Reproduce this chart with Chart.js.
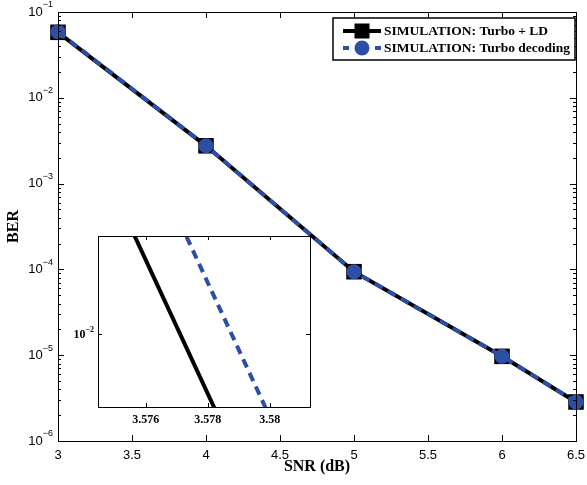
<!DOCTYPE html>
<html lang="en">
  <head>
    <meta charset="UTF-8" />
    <title>BER vs SNR</title>
    <script src="https://cdn.jsdelivr.net/npm/chart.js"></script>
    <style>
      html, body { margin: 0; padding: 0; background: #fff; }
      .wrap { position: relative; width: 587px; height: 485px; }
      #mainChart { position: absolute; left: 0; top: 0; }
      #insetChart { position: absolute; left: 60px; top: 226px; }
    </style>
  </head>
  <body>
    <div class="wrap">
      <canvas id="mainChart" width="587" height="485"></canvas>
      <canvas id="insetChart" width="260" height="210"></canvas>
    </div>

    <script>
      // data
      const snr = [3, 4, 5, 6, 6.5];
      const berTurboLD = [0.058, 0.002758, 9.4e-5, 9.7e-6, 2.85e-6];
      const berTurbo = [0.0587, 0.002758, 9.4e-5, 9.7e-6, 2.85e-6];

      const xTicks = [3, 3.5, 4, 4.5, 5, 5.5, 6, 6.5];
      const yExponents = [-1, -2, -3, -4, -5, -6];
      const insetXTicks = [3.576, 3.578, 3.58];
      const insetYExponents = [-2];

      const labelLD = "SIMULATION: Turbo + LD";
      const labelTurbo = "SIMULATION: Turbo decoding";

      const BLUE = "rgb(45,78,166)";
      const SANS = "'Liberation Sans', Arial, sans-serif";
      const SERIF = "'Liberation Serif', 'Times New Roman', serif";

      const toPoints = (ys) => snr.map((x, i) => ({ x: x, y: ys[i] }));

      // the inset is a very deep zoom, so the off-screen ends of the segments
      // land far outside the 16-bit pixel range chart.js clamps to.
      // these scales are the stock ones without that clamp.
      class WideLinearScale extends Chart.LinearScale {
        getPixelForDecimal(d) {
          if (this._reversePixels) d = 1 - d;
          return this._startPixel + d * this._length;
        }
      }
      WideLinearScale.id = "wideLinear";
      WideLinearScale.defaults = Chart.LinearScale.defaults;

      class WideLogScale extends Chart.LogarithmicScale {
        getPixelForDecimal(d) {
          if (this._reversePixels) d = 1 - d;
          return this._startPixel + d * this._length;
        }
      }
      WideLogScale.id = "wideLog";
      WideLogScale.defaults = Chart.LogarithmicScale.defaults;

      Chart.register(WideLinearScale, WideLogScale);

      // "10" with a raised exponent, right aligned at x
      function drawPower(ctx, exp, x, y, baseFont, expFont, expRise) {
        const base = "10";
        const sup = "\u2212" + Math.abs(exp);
        ctx.font = baseFont;
        const wb = ctx.measureText(base).width;
        ctx.font = expFont;
        const we = ctx.measureText(sup).width;
        ctx.textAlign = "left";
        ctx.textBaseline = "middle";
        ctx.font = baseFont;
        ctx.fillText(base, x - wb - we, y);
        ctx.font = expFont;
        ctx.fillText(sup, x - we, y - expRise);
      }

      const mainDecor = {
        id: "mainDecor",
        afterDraw(chart) {
          const ctx = chart.ctx;
          const a = chart.chartArea;
          const xs = chart.scales.x;
          const ys = chart.scales.y;
          ctx.save();
          ctx.strokeStyle = "#000";
          ctx.fillStyle = "#000";
          ctx.lineWidth = 1;

          // frame
          ctx.strokeRect(a.left + 0.5, a.top + 0.5, a.right - a.left, a.bottom - a.top);

          // x ticks, inward on bottom and top
          ctx.beginPath();
          xTicks.forEach((v) => {
            const px = Math.round(xs.getPixelForValue(v)) + 0.5;
            ctx.moveTo(px, a.bottom);
            ctx.lineTo(px, a.bottom - 6);
            ctx.moveTo(px, a.top);
            ctx.lineTo(px, a.top + 6);
          });
          // y ticks, major and minor, inward on both sides
          yExponents.forEach((e) => {
            const py = Math.round(ys.getPixelForValue(Math.pow(10, e))) + 0.5;
            ctx.moveTo(a.left, py);
            ctx.lineTo(a.left + 6, py);
            ctx.moveTo(a.right, py);
            ctx.lineTo(a.right - 6, py);
            if (e > -6) {
              for (let m = 2; m <= 9; m++) {
                const my = Math.round(ys.getPixelForValue(m * Math.pow(10, e - 1))) + 0.5;
                ctx.moveTo(a.left, my);
                ctx.lineTo(a.left + 3, my);
                ctx.moveTo(a.right, my);
                ctx.lineTo(a.right - 3, my);
              }
            }
          });
          ctx.stroke();

          // tick labels
          ctx.font = "13px " + SANS;
          ctx.textAlign = "center";
          ctx.textBaseline = "middle";
          xTicks.forEach((v) => {
            ctx.fillText(String(v), xs.getPixelForValue(v), a.bottom + 14);
          });
          yExponents.forEach((e) => {
            const py = ys.getPixelForValue(Math.pow(10, e));
            drawPower(ctx, e, a.left - 5, py, "13px " + SANS, "9px " + SANS, 7);
          });

          // axis titles
          ctx.font = "bold 16px " + SERIF;
          ctx.textAlign = "center";
          ctx.textBaseline = "middle";
          ctx.fillText("SNR (dB)", (a.left + a.right) / 2, a.bottom + 26);
          ctx.save();
          ctx.translate(14, (a.top + a.bottom) / 2);
          ctx.rotate(-Math.PI / 2);
          ctx.fillText("BER", 0, 0);
          ctx.restore();

          // legend
          const lx = a.right - 243, ly = a.top + 6, lw = 242, lh = 42;
          ctx.fillStyle = "#fff";
          ctx.fillRect(lx, ly, lw, lh);
          ctx.strokeStyle = "#000";
          ctx.lineWidth = 1.5;
          ctx.strokeRect(lx, ly, lw, lh);

          const r1 = ly + 13, r2 = ly + 30;
          const s0 = lx + 10, s1 = lx + 48, sm = (s0 + s1) / 2;
          ctx.lineWidth = 4;
          ctx.strokeStyle = "#000";
          ctx.beginPath();
          ctx.moveTo(s0, r1);
          ctx.lineTo(s1, r1);
          ctx.stroke();
          ctx.fillStyle = "#000";
          ctx.fillRect(sm - 7.5, r1 - 7.5, 15, 15);

          ctx.strokeStyle = BLUE;
          ctx.setLineDash([6, 26]);
          ctx.beginPath();
          ctx.moveTo(s0, r2);
          ctx.lineTo(s1, r2);
          ctx.stroke();
          ctx.setLineDash([]);
          ctx.fillStyle = BLUE;
          ctx.beginPath();
          ctx.arc(sm, r2, 7.5, 0, Math.PI * 2);
          ctx.fill();

          ctx.fillStyle = "#000";
          ctx.font = "bold 13.5px " + SERIF;
          ctx.textAlign = "left";
          ctx.textBaseline = "middle";
          ctx.fillText(labelLD, s1 + 3, r1 + 1);
          ctx.fillText(labelTurbo, s1 + 3, r2 + 1);
          ctx.restore();
        },
      };

      const insetDecor = {
        id: "insetDecor",
        afterDraw(chart) {
          const ctx = chart.ctx;
          const a = chart.chartArea;
          const xs = chart.scales.x;
          const ys = chart.scales.y;
          ctx.save();
          ctx.strokeStyle = "#000";
          ctx.fillStyle = "#000";
          ctx.lineWidth = 1;
          ctx.strokeRect(a.left + 0.5, a.top + 0.5, a.right - a.left, a.bottom - a.top);
          ctx.beginPath();
          insetXTicks.forEach((v) => {
            const px = Math.round(xs.getPixelForValue(v)) + 0.5;
            ctx.moveTo(px, a.bottom);
            ctx.lineTo(px, a.bottom - 4);
            ctx.moveTo(px, a.top);
            ctx.lineTo(px, a.top + 4);
          });
          insetYExponents.forEach((e) => {
            const py = Math.round(ys.getPixelForValue(Math.pow(10, e))) + 0.5;
            ctx.moveTo(a.left, py);
            ctx.lineTo(a.left + 4, py);
            ctx.moveTo(a.right, py);
            ctx.lineTo(a.right - 4, py);
          });
          ctx.stroke();

          ctx.font = "bold 12px " + SERIF;
          ctx.textAlign = "center";
          ctx.textBaseline = "middle";
          insetXTicks.forEach((v) => {
            ctx.fillText(String(v), xs.getPixelForValue(v), a.bottom + 13);
          });
          insetYExponents.forEach((e) => {
            const py = ys.getPixelForValue(Math.pow(10, e));
            drawPower(ctx, e, a.left - 4, py, "bold 12px " + SERIF, "bold 8px " + SERIF, 5);
          });
          ctx.restore();
        },
      };

      const hiddenAxis = (extra) =>
        Object.assign(
          {
            bounds: "data",
            grid: { display: false },
            border: { display: false },
            ticks: { display: false },
          },
          extra
        );

      new Chart(document.getElementById("mainChart"), {
        type: "line",
        data: {
          datasets: [
            {
              label: labelTurbo,
              data: toPoints(berTurbo),
              borderColor: BLUE,
              borderWidth: 4,
              borderDash: [9, 6],
              pointStyle: "circle",
              pointRadius: 7.5,
              pointBackgroundColor: BLUE,
              pointBorderWidth: 0,
              clip: false,
              order: 1,
            },
            {
              label: labelLD,
              data: toPoints(berTurboLD),
              borderColor: "#000",
              borderWidth: 4,
              pointStyle: "rect",
              pointRadius: 11,
              pointBackgroundColor: "#000",
              pointBorderWidth: 0,
              clip: false,
              order: 2,
            },
          ],
        },
        options: {
          responsive: false,
          animation: false,
          devicePixelRatio: 1,
          layout: { padding: { top: 12, right: 9, left: 0, bottom: 0 } },
          scales: {
            x: hiddenAxis({
              type: "linear",
              min: 3,
              max: 6.5,
              afterFit: (s) => { s.height = 44; },
            }),
            y: hiddenAxis({
              type: "logarithmic",
              min: 1e-6,
              max: 1e-1,
              afterFit: (s) => { s.width = 58; },
            }),
          },
          plugins: { legend: { display: false }, tooltip: { enabled: false } },
        },
        plugins: [mainDecor],
      });

      new Chart(document.getElementById("insetChart"), {
        type: "line",
        data: {
          datasets: [
            {
              data: toPoints(berTurbo),
              borderColor: BLUE,
              borderWidth: 4,
              borderDash: [9, 6],
              pointRadius: 0,
              order: 1,
            },
            {
              data: toPoints(berTurboLD),
              borderColor: "#000",
              borderWidth: 4,
              pointRadius: 0,
              order: 2,
            },
          ],
        },
        options: {
          responsive: false,
          animation: false,
          devicePixelRatio: 1,
          layout: { padding: { top: 10, right: 10, left: 0, bottom: 0 } },
          scales: {
            x: hiddenAxis({
              type: "wideLinear",
              min: 3.57446,
              max: 3.5813,
              afterFit: (s) => { s.height = 29; },
            }),
            y: hiddenAxis({
              type: "wideLog",
              min: 0.009967,
              max: 0.010045,
              afterFit: (s) => { s.width = 38; },
            }),
          },
          plugins: { legend: { display: false }, tooltip: { enabled: false } },
        },
        plugins: [insetDecor],
      });
    </script>
  </body>
</html>
